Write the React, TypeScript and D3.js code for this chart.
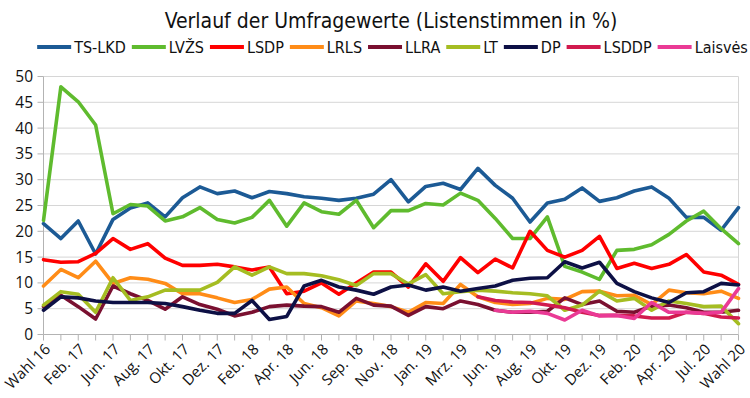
import React from "react";
import * as d3 from "d3";

const categories = [
  "Wahl 16", "Dez. 16", "Feb. 17", "Apr. 17", "Jun. 17", "Jul. 17", "Aug. 17", "Sep. 17",
  "Okt. 17", "Nov. 17", "Dez. 17", "Jan. 18", "Feb. 18", "Mrz. 18", "Apr. 18", "Mai 18",
  "Jun. 18", "Jul. 18", "Sep. 18", "Okt. 18", "Nov. 18", "Dez. 18", "Jan. 19", "Feb. 19",
  "Mrz. 19", "Mai 19", "Jun. 19", "Jul. 19", "Aug. 19", "Sep. 19", "Okt. 19", "Nov. 19",
  "Dez. 19", "Jan. 20", "Feb. 20", "Mrz. 20", "Apr. 20", "Mai 20", "Jul. 20", "Sep. 20",
  "Wahl 20",
];

const yTicks = [0, 5, 10, 15, 20, 25, 30, 35, 40, 45, 50];

const seriesNames = ["TS-LKD", "LVŽS", "LSDP", "LRLS", "LLRA", "LT", "DP", "LSDDP", "Laisvės"];
const seriesColors = ["#1c5a95", "#5fbb2e", "#ff0000", "#ff8c17", "#7a1030", "#a5bd22", "#0d1045", "#d11a4e", "#ea3a95"];

const tsLkd = [21.5, 18.6, 22.0, 15.6, 22.3, 24.5, 25.5, 22.8, 26.5, 28.6, 27.3, 27.8, 26.5, 27.7, 27.3, 26.7, 26.4, 26.0, 26.4, 27.2, 30.0, 25.7, 28.7, 29.3, 28.1, 32.2, 28.9, 26.4, 21.8, 25.5, 26.2, 28.4, 25.8, 26.5, 27.8, 28.6, 26.4, 22.7, 22.7, 20.2, 24.6];
const lvzs = [22.1, 48.0, 45.1, 40.6, 23.4, 25.2, 24.9, 22.0, 22.8, 24.6, 22.3, 21.6, 22.7, 26.0, 21.0, 25.5, 23.8, 23.3, 26.0, 20.7, 24.0, 24.0, 25.4, 25.1, 27.4, 26.0, 22.5, 18.6, 18.6, 22.8, 13.2, 12.1, 10.7, 16.3, 16.5, 17.4, 19.4, 22.0, 23.9, 20.5, 17.6];
const lsdp = [14.5, 14.0, 14.1, 15.7, 18.6, 16.5, 17.6, 14.8, 13.4, 13.4, 13.6, 13.1, 12.5, 13.1, 7.9, 8.4, 10.0, 7.8, 10.0, 12.1, 12.1, 9.2, 13.7, 10.3, 14.9, 12.0, 14.6, 12.9, 20.0, 16.3, 15.0, 16.3, 19.0, 12.8, 13.8, 12.8, 13.6, 15.5, 12.1, 11.5, 9.7];
const lrls = [9.4, 12.6, 11.0, 14.2, 9.9, 11.0, 10.7, 9.9, 7.9, 7.9, 7.1, 6.2, 6.8, 8.8, 9.2, 6.0, 5.2, 3.6, 6.5, 6.0, 5.4, 4.3, 6.2, 6.0, 9.7, 7.3, 6.2, 5.8, 6.0, 7.0, 6.8, 8.3, 8.4, 7.5, 7.6, 5.8, 8.6, 8.1, 7.9, 8.4, 7.0];
const llra = [5.4, 7.6, 5.4, 3.0, 9.4, 7.9, 6.6, 4.9, 7.3, 5.8, 4.9, 3.6, 4.3, 5.4, 5.7, 5.5, 5.4, 4.3, 7.0, 5.7, 5.5, 3.7, 5.4, 5.0, 6.5, 5.8, 4.7, 4.3, 4.3, 4.5, 7.1, 5.8, 6.5, 4.5, 4.3, 5.5, 5.7, 5.2, 4.3, 4.3, 4.7];
const lt = [5.7, 8.3, 7.8, 4.3, 11.0, 6.6, 7.3, 8.6, 8.6, 8.6, 10.1, 13.1, 11.5, 13.1, 11.8, 11.8, 11.4, 10.6, 9.5, 11.8, 11.8, 9.8, 11.6, 7.9, 8.3, 8.6, 8.4, 8.1, 7.9, 7.5, 4.7, 5.7, 8.4, 6.5, 7.0, 4.7, 6.5, 6.0, 5.4, 5.5, 2.1];
const dp = [4.7, 7.3, 7.1, 6.5, 6.2, 6.2, 6.2, 6.0, 5.4, 4.7, 4.1, 4.1, 6.6, 2.9, 3.5, 9.4, 10.5, 9.2, 8.6, 7.8, 9.2, 9.6, 8.6, 9.2, 8.4, 8.9, 9.4, 10.5, 10.9, 11.0, 14.1, 12.9, 14.0, 9.9, 8.3, 7.1, 6.2, 8.1, 8.3, 9.9, 9.6];
const lsddp = [null, null, null, null, null, null, null, null, null, null, null, null, null, null, null, null, null, null, null, null, null, null, null, null, null, 7.3, 6.6, 6.3, 6.2, 5.7, 5.2, 4.3, 3.7, 3.7, 3.6, 3.2, 3.2, 4.3, 4.1, 3.4, 3.2];
const laisves = [null, null, null, null, null, null, null, null, null, null, null, null, null, null, null, null, null, null, null, null, null, null, null, null, null, null, 4.7, 4.3, 4.5, 4.1, 2.8, 4.7, 3.6, 3.7, 3.1, 6.2, 4.3, 4.3, 4.1, 4.3, 8.9];

const seriesValues: (number | null)[][] = [tsLkd, lvzs, lsdp, lrls, llra, lt, dp, lsddp, laisves];

const W = 750;
const H = 398;
const M = { left: 43.5, right: 738.5, top: 76.5, bottom: 334.5 };
const legendFontSize = 16;
const legendFont = `${legendFontSize}px 'DejaVu Sans Condensed'`;

function measure(text: string, font: string): number {
  if (typeof document === "undefined") return text.length * 8;
  const c = document.createElement("canvas");
  const ctx = c.getContext("2d");
  if (!ctx) return text.length * 8;
  ctx.font = font;
  return ctx.measureText(text).width;
}

export default function App() {
  const x = d3.scalePoint<string>().domain(categories).range([M.left, M.right]);
  const y = d3.scaleLinear().domain([0, 50]).range([M.bottom, M.top]);

  const lineGen = d3
    .line<number | null>()
    .defined((d) => d != null)
    .x((_, i) => x(categories[i]) as number)
    .y((d) => y(d as number));

  // legend layout
  const swatch = 34;
  const gapAfterSwatch = 3;
  const gapAfterText = 6;
  const widths = seriesNames.map((n) => measure(n, legendFont));
  const total = widths.reduce((s, w) => s + swatch + gapAfterSwatch + w + gapAfterText, 0) - gapAfterText;
  let lx = 392.5 - total / 2;
  const legendItems = seriesNames.map((n, i) => {
    const item = { name: n, color: seriesColors[i], x: lx };
    lx += swatch + gapAfterSwatch + widths[i] + gapAfterText;
    return item;
  });
  const legendY = 47;

  return (
    <svg
      width={W}
      height={H}
      style={{ position: "absolute", left: 0, top: 0, background: "#fff" }}
    >
      <rect x={0} y={0} width={W} height={H} fill="#fff" />
      <text
        x={391}
        y={28}
        textAnchor="middle"
        fontFamily="'DejaVu Sans Condensed'"
        fontSize={21}
        fill="#111"
      >
        Verlauf der Umfragewerte (Listenstimmen in %)
      </text>

      {legendItems.map((it) => (
        <g key={it.name}>
          <line
            x1={it.x}
            x2={it.x + swatch}
            y1={legendY}
            y2={legendY}
            stroke={it.color}
            strokeWidth={4}
          />
          <text
            x={it.x + swatch + gapAfterSwatch}
            y={legendY + 6}
            fontFamily="'DejaVu Sans Condensed'"
            fontSize={legendFontSize}
            fill="#111"
          >
            {it.name}
          </text>
        </g>
      ))}

      {yTicks.map((t) => (
        <g key={t}>
          <line
            x1={M.left}
            x2={M.right}
            y1={y(t)}
            y2={y(t)}
            stroke={t === 0 ? "#b3b3b3" : "#d6d6d6"}
            strokeWidth={1}
          />
          <line x1={M.left - 6} x2={M.left} y1={y(t)} y2={y(t)} stroke="#b3b3b3" />
          <text
            x={33}
            y={y(t)}
            dy="0.36em"
            textAnchor="end"
            fontFamily="'Open Sans'"
            fontSize={15.5}
            fill="#111"
          >
            {t}
          </text>
        </g>
      ))}
      <line x1={M.left} x2={M.left} y1={M.top} y2={M.bottom} stroke="#b3b3b3" />
      <line x1={M.right} x2={M.right} y1={M.top} y2={M.bottom} stroke="#d6d6d6" />

      {categories.map((c, i) => (
        <g key={c}>
          <line
            x1={x(c)}
            x2={x(c)}
            y1={M.bottom}
            y2={M.bottom + 6}
            stroke="#b3b3b3"
          />
          {i % 2 === 0 && (
            <text
              transform={`translate(${(x(c) as number) + 4},${M.bottom + 12}) rotate(-45)`}
              textAnchor="end"
              dy="0.35em"
              fontFamily="'Open Sans'"
              fontSize={15}
              fill="#111"
            >
              {c}
            </text>
          )}
        </g>
      ))}

      {seriesValues.map((vals, si) => (
        <path
          key={seriesNames[si]}
          d={lineGen(vals) || ""}
          fill="none"
          stroke={seriesColors[si]}
          strokeWidth={3.6}
          strokeLinejoin="round"
          strokeLinecap="round"
        />
      ))}
    </svg>
  );
}
